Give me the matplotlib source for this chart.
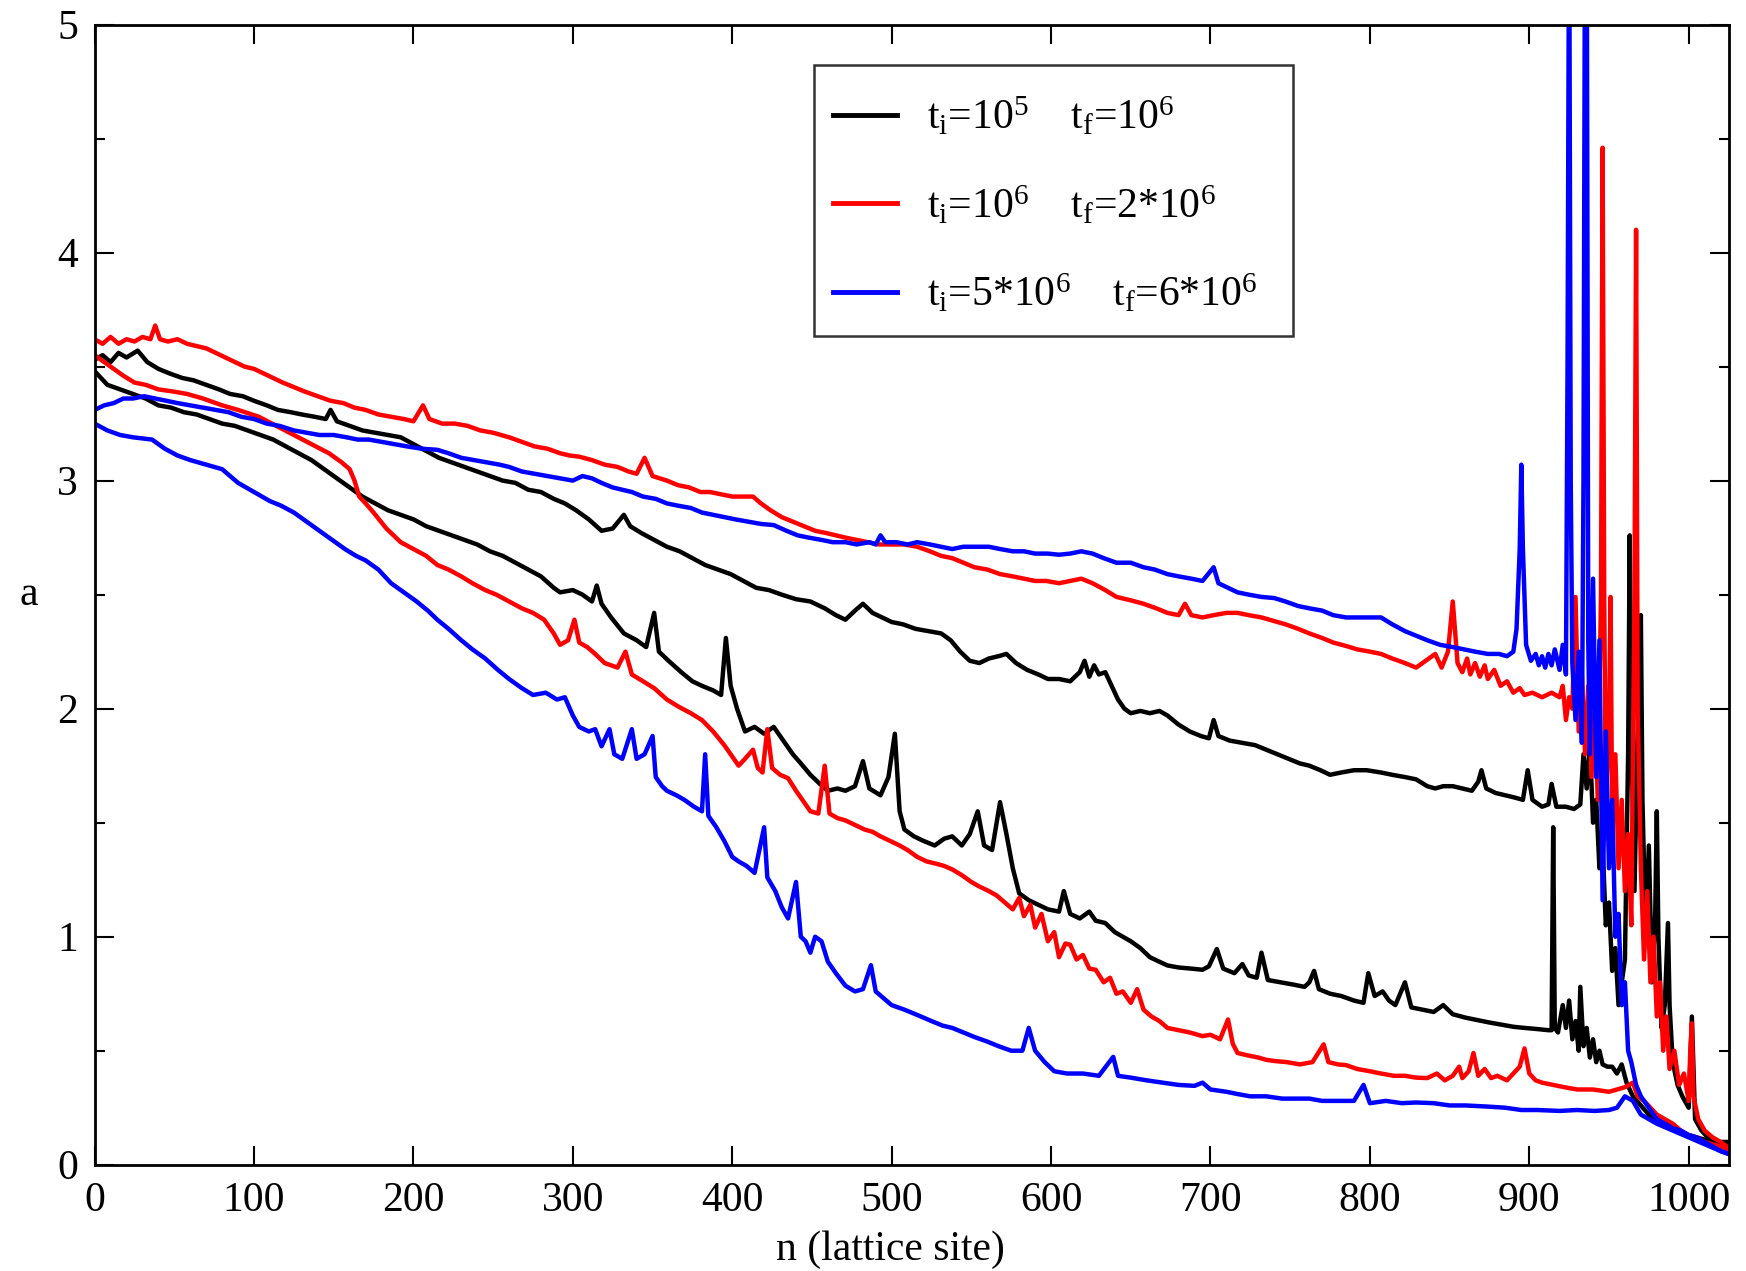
import matplotlib
matplotlib.use("Agg")
import matplotlib.pyplot as plt
from matplotlib.ticker import MultipleLocator
from matplotlib.patches import Rectangle

plt.rcParams['font.family'] = ['Liberation Serif', 'DejaVu Serif']
plt.rcParams['mathtext.fontset'] = 'custom'
plt.rcParams['mathtext.rm'] = 'Liberation Serif'
plt.rcParams['mathtext.it'] = 'Liberation Serif:italic'

# ---------------- data (n, a) ----------------
black_upper = [
 (0,3.53),(5,3.55),(10,3.52),(15,3.56),(20,3.54),(27,3.57),(33,3.52),(40,3.49),(47,3.47),(55,3.45),
 (62,3.44),(70,3.42),(78,3.40),(85,3.38),(93,3.37),(100,3.35),(108,3.33),(115,3.31),(123,3.30),(130,3.29),
 (138,3.28),(145,3.27),(148,3.31),(152,3.26),(160,3.24),(168,3.22),(176,3.21),(184,3.20),(192,3.19),(200,3.16),
 (208,3.13),(216,3.10),(224,3.08),(232,3.06),(240,3.04),(248,3.02),(256,3.00),(264,2.99),(272,2.96),(280,2.95),
 (288,2.92),(295,2.90),(302,2.87),(310,2.83),(318,2.78),(325,2.79),(332,2.85),(336,2.80),(343,2.77),(351,2.74),
 (359,2.71),(367,2.69),(375,2.66),(383,2.63),(391,2.61),(399,2.59),(407,2.56),(415,2.53),(423,2.52),(431,2.50),
 (440,2.48),(449,2.47),(458,2.44),(465,2.41),(471,2.39),(477,2.43),(482,2.46),(488,2.42),(494,2.40),(500,2.38),
 (507,2.37),(515,2.35),(523,2.34),(531,2.33),(537,2.30),(543,2.25),(549,2.21),(555,2.20),(561,2.22),(567,2.23),
 (572,2.24),(578,2.20),(585,2.17),(592,2.15),(598,2.13),(605,2.13),(612,2.12),(618,2.16),(621,2.21),(624,2.14),
 (627,2.19),(630,2.15),(634,2.16),(638,2.10),(642,2.04),(646,2.00),(650,1.98),(656,1.99),(662,1.98),(668,1.99),
 (673,1.97),(680,1.93),(687,1.90),(694,1.88),(699,1.87),(702,1.95),(705,1.88),(712,1.86),(720,1.85),(728,1.84),
 (735,1.82),(742,1.80),(749,1.78),(756,1.76),(762,1.75),(769,1.73),(775,1.71),(782,1.72),(790,1.73),(798,1.73),
 (807,1.72),(814,1.71),(822,1.70),(829,1.69),(836,1.66),(841,1.65),(846,1.66),(852,1.66),(858,1.65),(864,1.64),
 (868,1.68),(870,1.73),(873,1.65),(879,1.63),(885,1.62),(891,1.61),(896,1.60),(899,1.73),(902,1.60),(908,1.57),
 (912,1.58),(914,1.67),(917,1.57),(923,1.57),(928,1.56),(932,1.58),(934,1.80),(936,1.65),(938,1.85),(940,1.50),
 (942,1.60),(944,1.30),(946,1.40),(948,1.05),(950,1.15),(952,0.85),(954,0.95),(956,0.70),(958,0.80),(960,0.90),
 (962,1.80),(963,2.76),(964,1.90),(966,1.20),(968,1.90),(970,2.41),(971,1.60),(973,1.00),(975,1.40),(977,0.80),
 (979,1.10),(980,1.55),(981,1.00),(983,0.60),(985,0.70),(987,1.06),(988,0.70),(990,0.45),(993,0.35),(996,0.30),
 (1000,0.25),(1002,0.65),(1004,0.20),(1008,0.15),(1012,0.12),(1016,0.10),(1020,0.10),(1024,0.10)]

black_lower = [
 (0,3.48),(8,3.42),(16,3.40),(24,3.38),(32,3.36),(40,3.33),(48,3.32),(56,3.30),(64,3.29),(72,3.27),
 (80,3.25),(88,3.24),(96,3.22),(104,3.20),(112,3.18),(120,3.15),(128,3.12),(136,3.09),(144,3.05),(152,3.01),
 (160,2.97),(168,2.93),(176,2.90),(184,2.87),(192,2.85),(200,2.83),(208,2.80),(216,2.78),(224,2.76),(232,2.74),
 (240,2.72),(248,2.69),(256,2.67),(264,2.64),(272,2.61),(280,2.58),(288,2.53),(292,2.51),(300,2.52),(306,2.50),
 (312,2.47),(315,2.54),(318,2.46),(324,2.40),(332,2.33),(340,2.30),(346,2.27),(351,2.42),(354,2.25),(360,2.21),
 (368,2.16),(375,2.12),(381,2.10),(388,2.08),(393,2.06),(396,2.31),(399,2.10),(403,2.00),(408,1.90),(414,1.92),
 (420,1.89),(426,1.92),(432,1.86),(438,1.80),(443,1.76),(449,1.71),(455,1.67),(460,1.64),(466,1.65),(471,1.64),
 (477,1.66),(482,1.77),(486,1.65),(493,1.62),(498,1.70),(502,1.89),(505,1.55),(508,1.47),(514,1.44),(520,1.42),
 (527,1.40),(533,1.43),(538,1.44),(544,1.40),(549,1.45),(554,1.55),(558,1.40),(563,1.38),(568,1.59),(572,1.45),
 (576,1.30),(580,1.19),(586,1.16),(592,1.14),(598,1.12),(605,1.11),(608,1.20),(612,1.10),(618,1.08),(624,1.11),
 (628,1.07),(634,1.06),(640,1.02),(645,1.00),(650,0.98),(656,0.95),(662,0.91),(668,0.89),(673,0.874),(680,0.865),
 (688,0.86),(695,0.855),(699,0.87),(704,0.946),(708,0.86),(715,0.84),(720,0.88),(724,0.83),(729,0.82),(732,0.93),
 (736,0.81),(744,0.80),(752,0.79),(759,0.78),(762,0.80),(765,0.85),(768,0.77),(775,0.75),(782,0.74),(790,0.72),
 (796,0.71),(799,0.84),(803,0.74),(808,0.76),(812,0.72),(816,0.70),(822,0.80),(826,0.69),(833,0.68),(840,0.67),
 (846,0.70),(852,0.66),(860,0.645),(867,0.635),(874,0.625),(882,0.615),(890,0.605),(897,0.60),(905,0.595),(912,0.59),
 (914,0.59),(915,1.48),(916,0.60),(918,0.58),(919,0.62),(921,0.70),(923,0.60),(925,0.72),(927,0.55),(929,0.63),
 (931,0.50),(932,0.78),(934,0.52),(936,0.60),(938,0.47),(940,0.55),(942,0.45),(944,0.50),(946,0.44),(949,0.43),
 (952,0.43),(955,0.40),(958,0.44),(961,0.36),(965,0.30),(970,0.26),(975,0.22),(980,0.20),(985,0.18),(990,0.16),
 (1000,0.13),(1010,0.11),(1024,0.09)]

red_upper = [
 (0,3.62),(5,3.60),(10,3.63),(15,3.60),(20,3.62),(25,3.61),(30,3.63),(35,3.62),(38,3.68),(41,3.62),
 (46,3.61),(52,3.62),(58,3.60),(64,3.59),(70,3.58),(76,3.56),(82,3.54),(88,3.52),(94,3.50),(100,3.49),
 (106,3.47),(112,3.45),(118,3.43),(125,3.41),(132,3.39),(140,3.37),(148,3.35),(156,3.34),(163,3.32),(170,3.31),
 (178,3.29),(186,3.28),(194,3.27),(200,3.26),(206,3.33),(210,3.27),(218,3.25),(226,3.25),(234,3.24),(242,3.22),
 (250,3.21),(260,3.19),(268,3.17),(276,3.15),(284,3.14),(292,3.12),(298,3.11),(304,3.105),(312,3.09),(320,3.07),
 (328,3.06),(335,3.04),(340,3.03),(345,3.10),(350,3.02),(359,3.00),(366,2.98),(373,2.97),(380,2.95),(386,2.95),
 (393,2.94),(400,2.93),(407,2.93),(413,2.93),(418,2.90),(424,2.87),(431,2.84),(438,2.82),(445,2.80),(452,2.78),
 (459,2.77),(465,2.76),(471,2.75),(478,2.74),(485,2.73),(492,2.72),(500,2.72),(508,2.72),(516,2.71),(524,2.69),
 (531,2.67),(538,2.66),(545,2.64),(552,2.62),(560,2.61),(568,2.59),(576,2.58),(583,2.57),(590,2.56),(597,2.56),
 (605,2.55),(612,2.56),(619,2.57),(626,2.55),(634,2.52),(641,2.49),(650,2.475),(658,2.46),(666,2.44),(673,2.42),
 (680,2.41),(684,2.46),(688,2.41),(695,2.40),(702,2.41),(710,2.42),(717,2.42),(724,2.41),(732,2.40),(740,2.384),
 (747,2.37),(755,2.35),(762,2.33),(770,2.31),(777,2.29),(785,2.275),(792,2.26),(800,2.25),(807,2.24),(814,2.22),
 (822,2.20),(829,2.18),(835,2.21),(841,2.24),(845,2.18),(849,2.25),(852,2.47),(855,2.20),(858,2.16),(861,2.22),
 (863,2.15),(866,2.20),(869,2.14),(872,2.19),(874,2.13),(878,2.17),(882,2.10),(886,2.12),(890,2.07),(894,2.09),
 (897,2.06),(902,2.07),(908,2.05),(914,2.07),(919,2.05),(921,2.10),(923,1.95),(925,2.05),(927,2.00),(929,2.49),
 (931,1.90),(933,2.15),(935,1.80),(937,2.10),(939,1.70),(941,2.00),(943,1.60),(945,2.50),(946,4.46),(947,2.50),
 (948,1.60),(950,1.90),(951,2.49),(952,1.50),(954,1.80),(956,1.30),(958,1.60),(960,1.20),(962,1.45),(964,1.05),
 (966,2.50),(967,4.10),(968,2.00),(970,1.30),(972,0.90),(974,1.20),(976,0.80),(978,1.00),(980,0.65),(982,0.80),
 (984,0.50),(986,0.65),(988,0.42),(991,0.50),(994,0.35),(997,0.40),(1000,0.28),(1001,0.50),(1002,0.62),(1003,0.30),
 (1006,0.20),(1010,0.15),(1015,0.12),(1020,0.10),(1024,0.08)]

red_lower = [
 (0,3.55),(10,3.50),(18,3.46),(25,3.43),(32,3.42),(40,3.40),(50,3.39),(58,3.38),(68,3.36),(80,3.33),
 (90,3.31),(103,3.28),(114,3.24),(125,3.20),(136,3.16),(147,3.12),(155,3.08),(160,3.05),(163,3.00),(166,2.93),
 (170,2.90),(175,2.86),(183,2.79),(192,2.73),(200,2.70),(208,2.67),(215,2.63),(222,2.61),(230,2.58),(237,2.55),
 (245,2.52),(252,2.50),(260,2.47),(268,2.44),(275,2.42),(282,2.39),(288,2.33),(292,2.28),(297,2.30),(301,2.39),
 (304,2.29),(309,2.27),(314,2.24),(320,2.20),(328,2.18),(333,2.25),(337,2.15),(344,2.12),(351,2.09),(359,2.04),
 (366,2.01),(374,1.98),(381,1.95),(388,1.90),(395,1.84),(400,1.79),(404,1.75),(408,1.78),(413,1.82),(416,1.74),
 (419,1.72),(422,1.91),(425,1.74),(430,1.71),(435,1.695),(440,1.64),(445,1.59),(449,1.55),(454,1.54),(458,1.75),
 (461,1.54),(466,1.52),(471,1.51),(477,1.49),(483,1.47),(488,1.46),(493,1.44),(499,1.42),(505,1.40),(510,1.38),
 (516,1.35),(522,1.33),(528,1.32),(533,1.31),(538,1.295),(544,1.27),(550,1.24),(555,1.22),(561,1.20),(566,1.18),
 (571,1.15),(576,1.12),(580,1.17),(583,1.09),(587,1.14),(590,1.04),(594,1.10),(598,0.98),(602,1.02),(605,0.91),
 (609,0.97),(612,0.965),(616,0.90),(620,0.92),(624,0.86),(628,0.855),(633,0.80),(637,0.82),(641,0.75),(645,0.76),
 (650,0.71),(654,0.77),(658,0.68),(663,0.65),(668,0.63),(673,0.60),(680,0.59),(687,0.58),(695,0.564),(700,0.57),
 (706,0.55),(711,0.637),(714,0.53),(717,0.49),(723,0.48),(730,0.47),(735,0.46),(740,0.455),(748,0.45),(756,0.44),
 (764,0.45),(771,0.528),(774,0.45),(780,0.44),(785,0.437),(792,0.42),(800,0.41),(807,0.40),(815,0.39),(822,0.39),
 (829,0.382),(836,0.38),(842,0.40),(847,0.37),(852,0.39),(856,0.43),(858,0.38),(862,0.41),(865,0.49),(868,0.39),
 (872,0.42),(876,0.38),(880,0.39),(886,0.37),(890,0.40),(894,0.43),(897,0.51),(900,0.40),(904,0.37),(908,0.36),
 (915,0.35),(922,0.34),(930,0.33),(940,0.33),(950,0.32),(955,0.33),(960,0.34),(965,0.36),(968,0.30),(972,0.28),
 (976,0.25),(980,0.22),(985,0.20),(990,0.18),(995,0.15),(1000,0.13),(1005,0.12),(1010,0.10),(1015,0.09),(1020,0.08),
 (1024,0.07)]

blue_upper = [
 (0,3.31),(6,3.33),(12,3.34),(18,3.36),(24,3.36),(31,3.37),(38,3.36),(45,3.35),(52,3.34),(60,3.33),
 (68,3.32),(76,3.31),(84,3.30),(92,3.28),(100,3.27),(108,3.25),(116,3.24),(125,3.22),(133,3.21),(141,3.20),
 (150,3.20),(158,3.19),(165,3.18),(172,3.18),(180,3.17),(188,3.16),(196,3.15),(205,3.14),(215,3.135),(222,3.12),
 (230,3.10),(238,3.09),(246,3.08),(254,3.07),(260,3.06),(268,3.04),(276,3.03),(284,3.02),(292,3.01),(300,3.00),
 (306,3.02),(312,3.01),(318,2.99),(325,2.97),(331,2.96),(337,2.95),(344,2.93),(352,2.92),(359,2.90),(366,2.89),
 (374,2.88),(381,2.86),(388,2.85),(395,2.84),(402,2.83),(410,2.82),(418,2.81),(426,2.805),(434,2.78),(441,2.76),
 (448,2.75),(456,2.74),(463,2.73),(471,2.73),(478,2.72),(486,2.73),(490,2.72),(493,2.76),(496,2.73),(503,2.73),
 (510,2.72),(516,2.73),(524,2.72),(531,2.71),(538,2.70),(545,2.71),(553,2.71),(561,2.71),(568,2.70),(576,2.69),
 (583,2.69),(590,2.68),(598,2.68),(605,2.675),(612,2.68),(619,2.69),(626,2.68),(633,2.66),(641,2.64),(650,2.64),
 (658,2.62),(665,2.61),(673,2.59),(680,2.58),(688,2.57),(695,2.56),(702,2.62),(705,2.55),(711,2.53),(717,2.51),
 (724,2.50),(732,2.49),(740,2.485),(747,2.47),(755,2.45),(762,2.44),(770,2.43),(777,2.41),(785,2.40),(792,2.40),
 (800,2.40),(807,2.40),(814,2.37),(822,2.34),(829,2.32),(836,2.30),(844,2.28),(852,2.27),(859,2.26),(866,2.25),
 (874,2.24),(881,2.24),(886,2.23),(890,2.25),(892,2.35),(894,2.70),(895,3.07),(896,2.70),(898,2.28),(901,2.21),
 (904,2.24),(906,2.19),(908,2.23),(910,2.18),(912,2.24),(914,2.19),(916,2.26),(919,2.17),(921,2.28),(923,2.15),
 (924,3.50),(925,5.60),(926,3.00),(927,2.20),(929,1.95),(931,2.25),(933,1.85),(934,3.00),(935,5.60),(936,5.60),
 (937,2.30),(938,1.80),(940,2.57),(942,1.70),(944,2.30),(946,1.16),(948,1.90),(950,1.30),(952,1.60),(954,1.00),
 (956,1.10),(958,0.70),(960,0.80),(962,0.50),(964,0.45),(967,0.35),(970,0.30),(975,0.25),(980,0.20),(985,0.18),
 (990,0.16),(995,0.15),(1000,0.13),(1005,0.12),(1010,0.10),(1015,0.08),(1020,0.06),(1024,0.05)]

blue_lower = [
 (0,3.25),(8,3.22),(16,3.20),(24,3.19),(36,3.18),(44,3.14),(52,3.11),(60,3.09),(70,3.07),(80,3.05),
 (90,2.99),(100,2.95),(110,2.91),(117,2.89),(125,2.86),(133,2.82),(141,2.78),(149,2.74),(157,2.70),(164,2.67),
 (170,2.65),(178,2.61),(186,2.55),(194,2.51),(202,2.47),(209,2.43),(215,2.39),(222,2.35),(230,2.30),(237,2.26),
 (245,2.22),(253,2.17),(260,2.13),(268,2.09),(275,2.06),(283,2.07),(290,2.04),(295,2.05),(300,1.97),(304,1.92),
 (310,1.90),(314,1.91),(318,1.835),(323,1.91),(326,1.80),(331,1.78),(337,1.91),(340,1.78),(345,1.80),(350,1.88),
 (352,1.70),(356,1.66),(359,1.64),(365,1.62),(370,1.60),(376,1.57),(381,1.55),(383,1.80),(385,1.53),
 (390,1.48),(395,1.42),(400,1.35),(404,1.33),(409,1.31),(414,1.28),(420,1.48),(422,1.26),(427,1.20),(431,1.13),
 (435,1.08),(440,1.24),(443,1.00),(446,0.98),(449,0.93),(452,1.00),(456,0.98),(460,0.89),(465,0.84),(471,0.785),
 (477,0.76),(482,0.77),(487,0.875),(490,0.76),(495,0.73),(500,0.70),(508,0.68),(516,0.657),(525,0.63),(532,0.61),
 (538,0.60),(545,0.58),(552,0.56),(560,0.54),(567,0.52),(575,0.50),(582,0.50),(586,0.60),(590,0.50),(596,0.45),
 (602,0.41),(610,0.40),(620,0.40),(630,0.39),(639,0.473),(642,0.39),(650,0.382),(660,0.37),(670,0.36),(680,0.35),
 (690,0.346),(695,0.36),(700,0.33),(710,0.32),(717,0.31),(725,0.30),(735,0.30),(745,0.29),(755,0.29),(762,0.29),
 (770,0.28),(780,0.28),(790,0.28),(796,0.35),(800,0.27),(810,0.28),(820,0.27),(829,0.273),(840,0.27),(850,0.26),
 (860,0.26),(874,0.255),(885,0.25),(895,0.24),(905,0.24),(919,0.236),(930,0.24),(941,0.236),(950,0.24),(955,0.25),
 (960,0.30),(965,0.28),(970,0.22),(980,0.18),(990,0.15),(1000,0.12),(1010,0.09),(1020,0.06),(1024,0.05)]

legend_labels = ['t$_\\mathregular{i}$=10$^\\mathregular{5}$    t$_\\mathregular{f}$=10$^\\mathregular{6}$',
                 't$_\\mathregular{i}$=10$^\\mathregular{6}$    t$_\\mathregular{f}$=2*10$^\\mathregular{6}$',
                 't$_\\mathregular{i}$=5*10$^\\mathregular{6}$    t$_\\mathregular{f}$=6*10$^\\mathregular{6}$']
colors = ['#000000', '#ff0000', '#0000ff']
x_label = 'n (lattice site)'
y_label = 'a'

# ---------------- figure ----------------
fig = plt.figure(figsize=(17.46, 12.71), dpi=100)
ax = fig.add_axes([0.0542, 0.0836, 0.9358, 0.8971])

series = [(black_upper, black_lower), (red_upper, red_lower), (blue_upper, blue_lower)]
lw = 3.2
for (up, lo), c, lab in zip(series, colors, legend_labels):
    n1, a1 = zip(*up)
    n2, a2 = zip(*lo)
    ax.plot(n1, a1, color=c, lw=lw, label=lab)
    ax.plot(n2, a2, color=c, lw=lw)

ax.set_xlim(0, 1025)
ax.set_ylim(0, 5)
ax.xaxis.set_major_locator(MultipleLocator(100))
ax.yaxis.set_major_locator(MultipleLocator(1))
ax.yaxis.set_minor_locator(MultipleLocator(0.5))
ax.tick_params(axis='both', which='both', direction='in', top=True, right=True,
               labelsize=30, width=1.5)
ax.tick_params(axis='both', which='major', length=14)
ax.tick_params(axis='both', which='minor', length=7)
ax.tick_params(axis='x', pad=12)
ax.tick_params(axis='y', pad=12)
for s in ax.spines.values():
    s.set_linewidth(2.0)

ax.set_xlabel(x_label, fontsize=30)
ax.xaxis.set_label_coords(0.487, -0.058)
ax.set_ylabel(y_label, fontsize=30, rotation=0, va='center')
ax.yaxis.set_label_coords(-0.040, 0.5)

# legend box drawn as a plain rectangle, legend entries placed inside it
ax.add_patch(Rectangle((0.440, 0.7266), 0.2937, 0.2382, transform=ax.transAxes,
                       facecolor='white', edgecolor='#333333', lw=1.8, zorder=4))
leg = ax.legend(loc='upper left', bbox_to_anchor=(0.4516, 0.9375), borderaxespad=0,
                fontsize=30, frameon=False, handlelength=1.55,
                handletextpad=0.72, labelspacing=1.1, borderpad=0.0)
leg.set_zorder(5)
for h in leg.get_lines():
    h.set_linewidth(3.5)

fig.savefig('out.png', dpi=100)
